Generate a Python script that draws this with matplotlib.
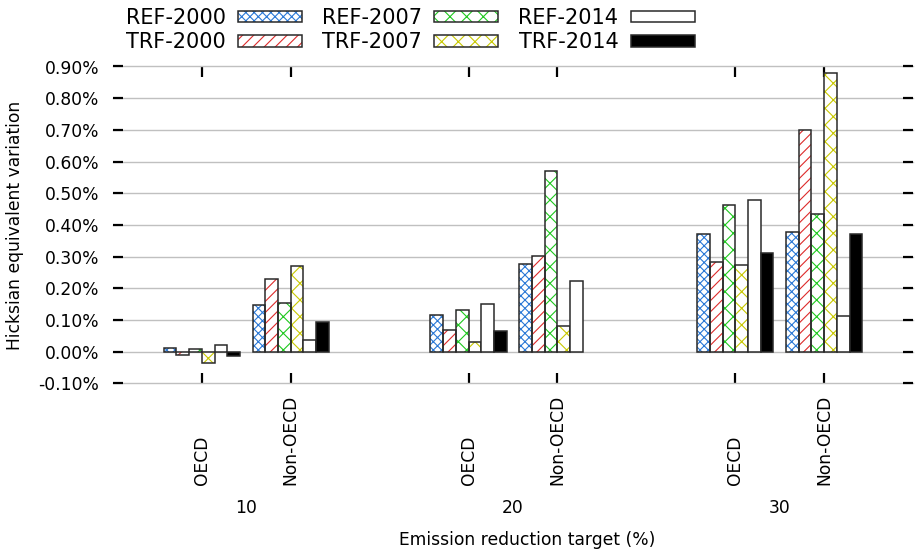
import numpy as np
import matplotlib
matplotlib.use("Agg")
import matplotlib.pyplot as plt
import matplotlib.transforms as mtransforms
from matplotlib.patches import Patch
from matplotlib.legend_handler import HandlerTuple

# ---- data (values in %) ----
targets = ["10", "20", "30"]
regions = ["OECD", "Non-OECD"]
series_names = ["REF-2000", "TRF-2000", "REF-2007", "TRF-2007", "REF-2014", "TRF-2014"]
# order of categories: 10-OECD, 10-Non-OECD, 20-OECD, 20-Non-OECD, 30-OECD, 30-Non-OECD
ref_2000 = [0.010, 0.147, 0.115, 0.276, 0.370, 0.379]
trf_2000 = [-0.011, 0.229, 0.068, 0.302, 0.282, 0.699]
ref_2007 = [0.007, 0.152, 0.130, 0.571, 0.462, 0.433]
trf_2007 = [-0.036, 0.270, 0.031, 0.080, 0.273, 0.878]
ref_2014 = [0.021, 0.037, 0.149, 0.223, 0.479, 0.112]
trf_2014 = [-0.013, 0.094, 0.065, np.nan, 0.310, 0.372]
yticks = [-0.10, 0.00, 0.10, 0.20, 0.30, 0.40, 0.50, 0.60, 0.70, 0.80, 0.90]

series = [ref_2000, trf_2000, ref_2007, trf_2007, ref_2014, trf_2014]
hatch_colors = ["#2a78d6", "#dd2b2b", "#1ec81e", "#c8c800", None, None]
hatches = ["xxxx", "///", "xx", "xx", None, None]
faces = ["white", "white", "white", "white", "white", "black"]
edge_col = "#2a2a2a"

plt.rcParams["font.family"] = ["DejaVu Sans"]
plt.rcParams["hatch.linewidth"] = 0.8
FS = 12.3
LFS = 15

W, H = 916, 554
fig = plt.figure(figsize=(W / 100, H / 100), dpi=100)
ax = fig.add_axes([113 / W, 1 - 383.3 / H, 800 / W, (383.3 - 66.5) / H])

# category positions: two regions per target, one empty slot between targets
positions = []
for g in range(len(targets)):
    for r in range(len(regions)):
        positions.append(g * 3 + r)
positions = np.array(positions, dtype=float)

nser = len(series)
width = 1.0 / (nser + 1)
handles = []
for i, vals in enumerate(series):
    xs = positions + (i - (nser - 1) / 2) * width
    v = np.array(vals, dtype=float)
    mask = ~np.isnan(v)
    if hatches[i] is not None:
        ax.bar(xs[mask], v[mask], width, color=faces[i], edgecolor=hatch_colors[i],
               hatch=hatches[i], linewidth=0, zorder=2)
        ax.bar(xs[mask], v[mask], width, fill=False, edgecolor=edge_col,
               linewidth=1.1, zorder=3)
        h1 = Patch(facecolor="white", edgecolor=hatch_colors[i], hatch=hatches[i], linewidth=0)
        h2 = Patch(fill=False, edgecolor=edge_col, linewidth=1.1)
        handles.append((h1, h2))
    else:
        ax.bar(xs[mask], v[mask], width, color=faces[i], edgecolor=edge_col,
               linewidth=1.1, zorder=3)
        handles.append(Patch(facecolor=faces[i], edgecolor=edge_col, linewidth=1.1))

ax.set_xlim(-1, 8)
ax.set_ylim(-0.10, 0.90)
ax.set_yticks(yticks)
ax.set_yticklabels([f"{t:.2f}%" for t in yticks], fontsize=FS)
ax.set_xticks(positions)
ax.set_xticklabels([])
for s in ax.spines.values():
    s.set_visible(False)
ax.tick_params(axis="y", direction="in", length=7, width=1.6, left=True, right=True,
               labelleft=True, labelright=False, pad=10, colors="black")
ax.tick_params(axis="x", direction="in", length=7, width=1.6, bottom=True, top=True,
               labelbottom=False)
ax.yaxis.grid(True, color="#c0c0c0", linewidth=1.0)
for gl in ax.get_ygridlines():
    gl.set_clip_on(False)
ax.set_axisbelow(True)

# category labels
trans = mtransforms.blended_transform_factory(ax.transData, fig.transFigure)
k = 0
for g, t in enumerate(targets):
    for r, reg in enumerate(regions):
        ax.text(positions[k], 1 - 485 / H, reg, rotation=90, ha="center", va="bottom",
                fontsize=FS, transform=trans)
        k += 1
    ax.text(positions[2 * g:2 * g + 2].mean(), 1 - 508 / H, t, ha="center", va="center",
            fontsize=FS, transform=trans)

fig.text(527 / W, 1 - 540 / H, "Emission reduction target (%)", ha="center", va="center",
         fontsize=FS)
fig.text(15 / W, 1 - 225 / H, "Hicksian equivalent variation", rotation=90,
         ha="center", va="center", fontsize=FS)

fig.legend(handles, series_names, handler_map={tuple: HandlerTuple(ndivide=1)},
           ncol=3, loc="upper left", bbox_to_anchor=(126 / W, 1 - 8 / H),
           frameon=False, markerfirst=False, fontsize=LFS, handlelength=3.08,
           handleheight=0.48, handletextpad=0.58, columnspacing=0.96,
           labelspacing=0.2, borderpad=0, borderaxespad=0)

fig.savefig("out.png", dpi=100)
